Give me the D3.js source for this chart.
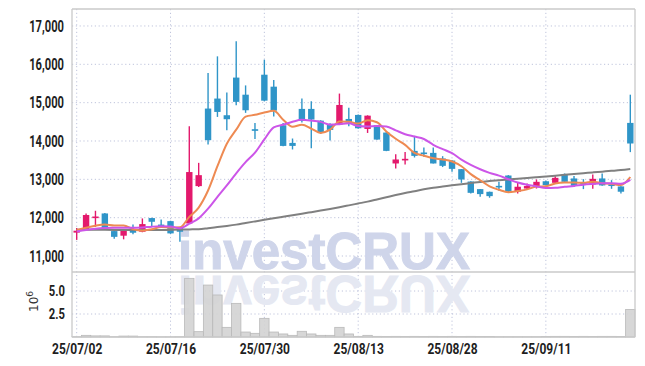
<!DOCTYPE html>
<html><head><meta charset="utf-8">
<script src="https://cdn.jsdelivr.net/npm/d3@7"></script>
<style>body{margin:0;background:#fff}svg{display:block}</style>
</head><body>
<svg id="c" width="645" height="366"></svg>
<script>
const dates = ["25/07/02","25/07/03","25/07/04","25/07/07","25/07/08","25/07/09","25/07/10","25/07/11","25/07/14","25/07/15",
"25/07/16","25/07/17","25/07/18","25/07/21","25/07/22","25/07/23","25/07/24","25/07/25","25/07/28","25/07/29",
"25/07/30","25/07/31","25/08/01","25/08/04","25/08/05","25/08/06","25/08/07","25/08/08","25/08/11","25/08/12",
"25/08/13","25/08/14","25/08/18","25/08/19","25/08/20","25/08/21","25/08/22","25/08/25","25/08/26","25/08/27",
"25/08/28","25/08/29","25/09/01","25/09/02","25/09/03","25/09/04","25/09/05","25/09/08","25/09/09","25/09/10",
"25/09/11","25/09/12","25/09/15","25/09/16","25/09/17","25/09/18","25/09/19","25/09/22","25/09/23","25/09/24"];
const opens = [11610,11700,12000,12110,11650,11530,11695,11633,11990,11820,
11910,11737,11850,12823,14846,15107,14672,15654,15208,14308,
15729,15417,14411,13950,14837,14837,14531,14445,14430,14575,
14680,14314,14411,14220,13414,13500,13742,13700,13690,13544,
13490,13266,12943,12745,12675,12830,13100,12677,12760,12807,
12950,12909,13117,13023,12910,12867,13023,12867,12815,14472];
const highs = [11730,12110,12180,12120,11700,11700,11825,11980,12000,11955,
11920,11760,14385,13430,15773,16208,15263,16599,15450,14470,
16120,15590,14470,14065,15107,15036,14540,14460,15237,14870,
14690,14670,14420,14230,13656,13715,14133,13831,13831,13604,
13500,13270,12950,12750,12680,12935,13110,12909,12890,12997,
12960,13083,13153,13090,13005,13128,13153,12979,12820,15208];
const lows = [11420,11700,11760,11700,11450,11435,11570,11620,11780,11780,
11580,11372,11850,12800,13909,14628,14281,14932,14734,14055,
15035,14640,13860,13779,14480,13810,14185,14010,14420,14385,
14320,14210,14030,13735,13283,13390,13570,13589,13410,13320,
13200,12909,12630,12545,12520,12700,12670,12630,12730,12760,
12840,12900,12930,12802,12745,12753,12830,12753,12630,13710];
const closes = [11660,12070,12030,11710,11500,11660,11607,11833,11893,11800,
11590,11633,13190,13109,14021,14758,14568,15021,14802,14265,
15052,14792,13872,13872,14524,14560,14227,14289,14940,14482,
14332,14661,14037,13742,13518,13535,13612,13675,13414,13352,
13273,12997,12648,12615,12562,12815,12680,12807,12825,12935,
12850,13039,12935,12831,12883,13013,12841,12841,12677,13935];
const volumes = [30000,180000,120000,120000,30000,100000,100000,30000,30000,20000,
20000,30000,6380000,580000,5650000,4570000,1050000,3660000,540000,400000,
2030000,540000,330000,180000,620000,330000,180000,180000,1050000,330000,
70000,180000,70000,60000,70000,60000,70000,60000,70000,60000,
70000,60000,70000,60000,60000,30000,30000,30000,30000,30000,
60000,70000,70000,60000,70000,60000,70000,70000,60000,3000000];
const ma5 = [11680,11735,11790,11820,11794,11794,11701,11662,11699,11759,
11745,11750,12021,12264,12709,13342,13929,14295,14634,14683,
14742,14786,14557,14371,14422,14324,14211,14294,14508,14500,
14454,14541,14490,14251,14058,13899,13689,13616,13551,13518,
13465,13342,13137,12977,12819,12727,12664,12696,12738,12812,
12819,12891,12917,12918,12908,12940,12901,12882,12851,13061];
const ma10 = [11640,11680,11710,11730,11740,11740,11735,11745,11765,11776,
11769,11726,11842,11982,12234,12543,12840,13158,13449,13696,
14042,14358,14426,14502,14553,14533,14499,14426,14439,14461,
14389,14376,14392,14379,14279,14176,14115,14053,13901,13788,
13682,13516,13377,13264,13168,13096,13003,12916,12857,12816,
12773,12778,12806,12828,12860,12880,12896,12899,12885,12985];
const ma60 = [11685,11684,11683,11682,11681,11680,11679,11678,11677,11678,
11683,11689,11694,11699,11725,11755,11785,11819,11861,11903,
11945,11984,12023,12062,12102,12144,12186,12228,12273,12321,
12370,12419,12475,12532,12589,12642,12690,12740,12780,12812,
12844,12874,12903,12932,12958,12978,12998,13018,13037,13056,
13075,13095,13117,13139,13161,13181,13201,13221,13242,13270];
const priceTicks = [11000,12000,13000,14000,15000,16000,17000];
const volumeTicks = [2500000,5000000];
const dateTicks = ["25/07/02","25/07/16","25/07/30","25/08/13","25/08/28","25/09/11"];

const L = 72, R = 635, T = 9, MID = 272, B = 337;
const UP = "#e3196c", DOWN = "#2f95c8";
const svg = d3.select("#c");

const x = d3.scalePoint().domain(dates).range([L, R]).padding(0.5);
const y = d3.scaleLinear().domain([10583, 17443]).range([MID, T]);
const yv = d3.scaleLinear().domain([0, 7070000]).range([B, MID]);

const gridCol = "#bfc4dc";
svg.append("g").selectAll("line").data(priceTicks).join("line")
  .attr("x1", L).attr("x2", R).attr("y1", d => y(d)).attr("y2", d => y(d))
  .attr("stroke", gridCol).attr("stroke-dasharray", "1.2,2.6");
svg.append("g").selectAll("line").data(volumeTicks).join("line")
  .attr("x1", L).attr("x2", R).attr("y1", d => yv(d)).attr("y2", d => yv(d))
  .attr("stroke", gridCol).attr("stroke-dasharray", "1.2,2.6");
svg.append("g").selectAll("line").data(dateTicks).join("line")
  .attr("x1", d => x(d)).attr("x2", d => x(d)).attr("y1", T).attr("y2", B)
  .attr("stroke", gridCol).attr("stroke-dasharray", "1.2,2.6");

// watermark
const wm = svg.append("g").attr("font-family", "'Liberation Sans', Arial, sans-serif")
  .attr("font-weight", "bold").attr("font-size", 51);
wm.append("text").attr("x", 178).attr("y", 269).attr("fill", "#cfd5ea")
  .attr("stroke", "#cfd5ea").attr("stroke-width", 1).text("investCRUX");
wm.append("text").attr("x", 178).attr("y", 269).attr("fill", "#e5e8f2")
  .attr("stroke", "#e5e8f2").attr("stroke-width", 1)
  .attr("transform", "translate(0,545) scale(1,-1)").text("investCRUX");

// volume bars
svg.append("g").selectAll("rect").data(dates).join("rect")
  .attr("x", d => x(d) - x.step() / 2).attr("width", x.step())
  .attr("y", (d, i) => yv(volumes[i])).attr("height", (d, i) => B - yv(volumes[i]))
  .attr("fill", "#d3d3d3").attr("fill-opacity", 0.9)
  .attr("stroke", "#b9b9b9").attr("stroke-width", 0.8);

// candles
const cg = svg.append("g");
dates.forEach((d, i) => {
  const col = closes[i] >= opens[i] ? UP : DOWN;
  const cx = x(d);
  cg.append("line").attr("x1", cx).attr("x2", cx)
    .attr("y1", y(highs[i])).attr("y2", y(lows[i]))
    .attr("stroke", col).attr("stroke-width", 1.4);
  const top = y(Math.max(opens[i], closes[i]));
  const h = Math.max(1.6, y(Math.min(opens[i], closes[i])) - top);
  cg.append("rect").attr("x", cx - 3.2).attr("width", 6.4)
    .attr("y", top).attr("height", h).attr("fill", col);
});

// moving averages
const line = arr => d3.line().x((d, i) => x(dates[i])).y(d => y(d)).curve(d3.curveMonotoneX)(arr);
svg.append("path").attr("d", line(ma60)).attr("fill", "none").attr("stroke", "#808080").attr("stroke-width", 2);
svg.append("path").attr("d", line(ma5)).attr("fill", "none").attr("stroke", "#ee8a52").attr("stroke-width", 2);
svg.append("path").attr("d", line(ma10)).attr("fill", "none").attr("stroke", "#cc55e8").attr("stroke-width", 2);

// frame
const fr = svg.append("g").attr("stroke", "#cacaca").attr("stroke-width", 1.3).attr("fill", "none");
fr.append("line").attr("x1", L).attr("x2", R).attr("y1", T).attr("y2", T);
fr.append("line").attr("x1", L).attr("x2", L).attr("y1", T).attr("y2", B);
fr.append("line").attr("x1", R).attr("x2", R).attr("y1", T).attr("y2", B);
fr.append("line").attr("x1", L).attr("x2", R).attr("y1", MID).attr("y2", MID);
fr.append("line").attr("x1", L).attr("x2", R).attr("y1", B).attr("y2", B);

// axes
const font = "Roboto, 'DejaVu Sans', sans-serif";
function styleAxis(g, size, sx, padX) {
  g.select(".domain").remove();
  g.selectAll(".tick line").remove();
  g.selectAll("text").attr("font-family", font).attr("font-size", size)
    .attr("font-weight", 700).attr("fill", "#1e1e1e");
  if (padX !== undefined) {
    g.selectAll("text").attr("x", -padX / sx).attr("transform", `scale(${sx},1)`);
  } else {
    g.selectAll("text").attr("transform", `scale(${sx},1)`);
  }
}
svg.append("g").attr("transform", `translate(${L},0)`)
  .call(d3.axisLeft(y).tickValues(priceTicks).tickFormat(d3.format(",")).tickSize(0))
  .call(g => styleAxis(g, 16, 0.7, 8));
svg.append("g").attr("transform", `translate(${L},0)`)
  .call(d3.axisLeft(yv).tickValues(volumeTicks).tickFormat(d => (d / 1e6).toFixed(1)).tickSize(0))
  .call(g => styleAxis(g, 15, 0.75, 7));
svg.append("g").attr("transform", `translate(0,${B})`)
  .call(d3.axisBottom(x).tickValues(dateTicks).tickSize(0).tickPadding(6))
  .call(g => styleAxis(g, 15, 0.8));

// 10^6 label
const ex = svg.append("text").attr("transform", "translate(38,312) rotate(-90)")
  .attr("font-family", "'DejaVu Sans', sans-serif").attr("font-size", 12).attr("fill", "#333");
ex.append("tspan").text("10");
ex.append("tspan").attr("dy", -5).attr("font-size", 9).text("6");
</script>
</body></html>
